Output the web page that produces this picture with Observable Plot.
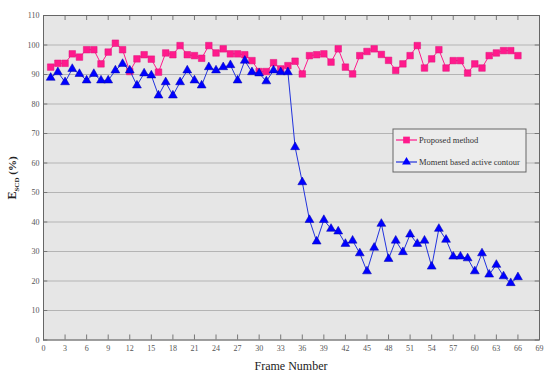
<!DOCTYPE html>
<html><head><meta charset="utf-8">
<script src="https://cdn.jsdelivr.net/npm/d3@7"></script>
<script src="https://cdn.jsdelivr.net/npm/@observablehq/plot@0.6"></script>
<style>body{margin:0;background:#fff;}</style>
</head><body><div id="chart"></div>
<script>
const frames = d3.range(1, 67);
const proposed = [92.5, 93.8, 93.8, 97.0, 95.9, 98.4, 98.4, 93.6, 97.6, 100.6,
  98.4, 91.0, 95.3, 96.7, 95.2, 90.8, 97.3, 96.7, 99.8, 96.7,
  96.4, 95.5, 99.8, 97.3, 98.7, 97.0, 97.0, 96.7, 94.7, 91.0,
  91.0, 94.0, 91.9, 93.0, 94.5, 90.2, 96.4, 96.7, 97.0, 94.2,
  98.7, 92.5, 90.2, 96.4, 97.8, 98.7, 96.8, 94.8, 91.4, 93.6,
  96.4, 99.8, 92.2, 95.3, 98.4, 92.2, 94.7, 94.7, 90.5, 93.6,
  92.2, 96.4, 97.3, 98.1, 98.1, 96.4];
const moment = [88.9, 90.8, 87.4, 91.9, 90.2, 88.0, 90.2, 88.0, 88.0, 91.4,
  93.6, 91.4, 86.3, 90.4, 89.7, 82.9, 87.4, 82.9, 87.4, 91.4,
  88.0, 86.3, 92.5, 91.4, 92.5, 93.2, 88.0, 94.7, 90.8, 90.4,
  87.7, 91.4, 90.8, 90.8, 65.4, 53.5, 40.7, 33.4, 40.7, 37.7,
  36.8, 32.6, 33.7, 29.4, 23.3, 31.3, 39.4, 27.5, 33.7, 29.8,
  35.8, 32.6, 33.7, 24.9, 37.7, 34.0, 28.3, 28.3, 27.7, 23.3,
  29.4, 22.2, 25.5, 21.6, 19.3, 21.3];
const seriesNames = ["Proposed method", "Moment based active contour"];
const xTicks = d3.range(0, 70, 3);
const yTicks = d3.range(0, 111, 10);

const pink = "#ff1a8c", blue = "#0000ff", blueLine = "#2233dd";
const pData = frames.map((f, i) => ({frame: f, value: proposed[i]}));
const mData = frames.map((f, i) => ({frame: f, value: moment[i]}));

const plot = Plot.plot({
  width: 547, height: 374,
  marginLeft: 43, marginRight: 8, marginTop: 15, marginBottom: 34.5,
  x: {domain: [0, 69], label: null},
  y: {domain: [0, 110], label: null},
  style: {fontFamily: "Liberation Serif", fontSize: "8px", color: "#555", background: "#fff"},
  marks: [
    Plot.frame({fill: "#e6e6e6", stroke: null}),
    Plot.gridY(yTicks, {stroke: "#b4b4b4", strokeOpacity: 1, strokeWidth: 1}),
    Plot.axisX(xTicks, {tickSize: 0, tickPadding: 5, fill: "#555"}),
    Plot.axisY(yTicks, {tickSize: 0, tickPadding: 4, fill: "#555"}),
    Plot.ruleX(xTicks, {y1: 0, y2: 1.7, stroke: "#777"}),
    Plot.ruleX(xTicks, {y1: 110, y2: 108.3, stroke: "#777"}),
    Plot.ruleY(yTicks, {x1: 0, x2: 0.6, stroke: "#777"}),
    Plot.ruleY(yTicks, {x1: 69, x2: 68.4, stroke: "#777"}),
    Plot.line(pData, {x: "frame", y: "value", stroke: pink, strokeWidth: 1}),
    Plot.dot(pData, {x: "frame", y: "value", symbol: "square", r: 3.7, fill: pink, stroke: "#e0107a", strokeWidth: 0.5}),
    Plot.line(mData, {x: "frame", y: "value", stroke: blueLine, strokeWidth: 1}),
    Plot.dot(mData, {x: "frame", y: "value", symbol: "triangle", r: 3.3, fill: blue, stroke: "#0000aa", strokeWidth: 0.5}),
    Plot.frame({stroke: "#666", strokeWidth: 1})
  ]
});
document.getElementById("chart").appendChild(plot);

const svg = d3.select(plot);
// y-axis label with subscript
const yl = svg.append("text")
  .attr("transform", "translate(16,178) rotate(-90)")
  .attr("text-anchor", "middle")
  .attr("font-family", "Liberation Serif")
  .attr("font-weight", "bold")
  .attr("fill", "#222");
yl.append("tspan").attr("font-size", 12).text("E");
yl.append("tspan").attr("font-size", 7).attr("dy", 3).text("SCD");
yl.append("tspan").attr("font-size", 11).attr("dy", -3).text(" (%)");

// x-axis label
svg.append("text")
  .attr("x", 291).attr("y", 370)
  .attr("text-anchor", "middle")
  .attr("font-family", "Liberation Serif")
  .attr("font-size", 12)
  .attr("fill", "#222")
  .text("Frame Number");

// legend
const lg = svg.append("g").attr("transform", "translate(393,129)");
lg.append("rect").attr("width", 133).attr("height", 43)
  .attr("fill", "#ececec").attr("stroke", "#666").attr("stroke-width", 1);
const cols = [pink, blue];
const lineCols = [pink, blueLine];
const syms = [d3.symbolSquare, d3.symbolTriangle];
seriesNames.forEach((name, i) => {
  const yy = 11 + i * 22;
  lg.append("line").attr("x1", 3).attr("x2", 24).attr("y1", yy).attr("y2", yy)
    .attr("stroke", lineCols[i]).attr("stroke-width", 1.2);
  lg.append("path").attr("d", d3.symbol(syms[i], i ? 34 : 45)())
    .attr("transform", `translate(13.5,${yy})`).attr("fill", cols[i]);
  lg.append("text").attr("x", 26).attr("y", yy + 3)
    .attr("text-anchor", "start")
    .attr("font-family", "Liberation Serif").attr("font-size", 8.5)
    .attr("fill", "#333").text(name);
});
</script>
</body></html>
